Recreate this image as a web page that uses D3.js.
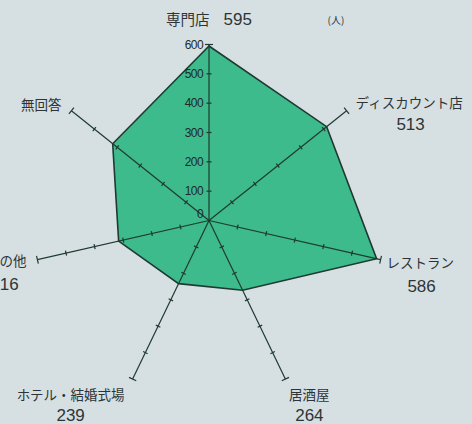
<!DOCTYPE html>
<html>
<head>
<meta charset="utf-8">
<script src="https://cdn.jsdelivr.net/npm/d3@7"></script>
<style>
html,body{margin:0;padding:0;background:#d6e0e2;}
svg{display:block;}
</style>
</head>
<body>
<svg id="chart" width="472" height="424"></svg>
<script>
// ---- data ----
const categories = ["専門店", "ディスカウント店", "レストラン", "居酒屋", "ホテル・結婚式場", "その他", "無回答"];
const values = [595, 513, 586, 264, 239, 316, 420];
const showValue = [true, true, true, true, true, true, false];
const tickValues = [0, 100, 200, 300, 400, 500, 600];
const unitLabel = "(人)";

// ---- layout ----
const W = 472, H = 424;
const cx = 209, cy = 220.5, R = 176;
const bg = "#d6e0e2", fill = "#3dbb8c", ink = "#1f3a31", txt = "#2e3436";

const svg = d3.select("#chart");
svg.append("rect").attr("width", W).attr("height", H).attr("fill", bg);

const r = d3.scaleLinear().domain([0, 600]).range([0, R]);
const angle = d3.scaleLinear().domain([0, categories.length]).range([0, 2 * Math.PI]);
const pt = (i, v) => [cx + r(v) * Math.sin(angle(i)), cy - r(v) * Math.cos(angle(i))];

const g = svg.append("g");

// polygon
const line = d3.lineRadial().angle((d, i) => angle(i)).radius(d => r(d)).curve(d3.curveLinearClosed);
g.append("path")
  .attr("transform", `translate(${cx},${cy})`)
  .attr("d", line(values))
  .attr("fill", fill)
  .attr("stroke", ink)
  .attr("stroke-width", 1.6)
  .attr("stroke-linejoin", "miter");

// axes with ticks
categories.forEach((c, i) => {
  const a = angle(i);
  const ax = g.append("g").attr("transform", `translate(${cx},${cy}) rotate(${a * 180 / Math.PI})`);
  ax.append("line").attr("x1", 0).attr("y1", 0).attr("x2", 0).attr("y2", -r(600))
    .attr("stroke", ink).attr("stroke-width", 1.2);
  ax.selectAll("line.tick").data(tickValues.filter(t => t > 0)).enter().append("line")
    .attr("class", "tick")
    .attr("x1", t => t === 600 ? -4 : -2.5)
    .attr("x2", t => t === 600 ? 4 : 2.5)
    .attr("y1", t => -r(t)).attr("y2", t => -r(t))
    .attr("stroke", ink).attr("stroke-width", 1.2);
});

// tick labels on first axis
g.selectAll("text.tl").data(tickValues).enter().append("text")
  .attr("class", "tl")
  .attr("x", cx - 6)
  .attr("y", t => cy - r(t) + (t === 0 ? -3 : 4))
  .attr("text-anchor", "end")
  .attr("font-family", "Liberation Sans, Arial, sans-serif")
  .attr("font-size", 12)
  .attr("letter-spacing", -0.6)
  .attr("fill", "#1e2a26")
  .text(d => d);

// category labels (offsets relative to axis end)
const jp = "'Noto Sans CJK JP', sans-serif";
const num = "'Liberation Sans', Arial, sans-serif";
const labelLayout = [
  {type: "inline", dx: 0, dy: -20},
  {anchor: "start", dx: 9, dy: -3, vdx: 55, vdy: 22},
  {anchor: "start", dx: 6, dy: 8, vdx: 35, vdy: 24},
  {anchor: "middle", dx: 24, dy: 21, vdx: 0, vdy: 21},
  {anchor: "middle", dx: -62, dy: 21, vdx: 0, vdy: 21},
  {anchor: "end", dx: -11, dy: 6, vdx: -22, vdy: 24},
  {anchor: "end", dx: -10, dy: -1, vdx: 0, vdy: 22}
];

categories.forEach((c, i) => {
  const [ex, ey] = pt(i, 600);
  const L = labelLayout[i];
  if (L.type === "inline") {
    const t = svg.append("text").attr("x", ex + L.dx).attr("y", ey + L.dy)
      .attr("text-anchor", "middle").attr("fill", txt);
    t.append("tspan").attr("font-family", jp).attr("font-size", 14.5).text(c);
    t.append("tspan").attr("font-family", num).attr("font-size", 17).attr("dx", 14).text(values[i]);
    return;
  }
  svg.append("text").attr("x", ex + L.dx).attr("y", ey + L.dy)
    .attr("text-anchor", L.anchor).attr("fill", txt)
    .attr("font-family", jp).attr("font-size", 13.5).text(c);
  if (showValue[i]) {
    svg.append("text").attr("x", ex + L.dx + L.vdx).attr("y", ey + L.dy + L.vdy)
      .attr("text-anchor", "middle")
      .attr("fill", txt).attr("font-family", num).attr("font-size", 17).text(values[i]);
  }
});

// unit
svg.append("text").attr("x", 336).attr("y", 24).attr("text-anchor", "middle")
  .attr("font-family", jp).attr("font-size", 10).attr("fill", txt).text(unitLabel);
</script>
</body>
</html>
